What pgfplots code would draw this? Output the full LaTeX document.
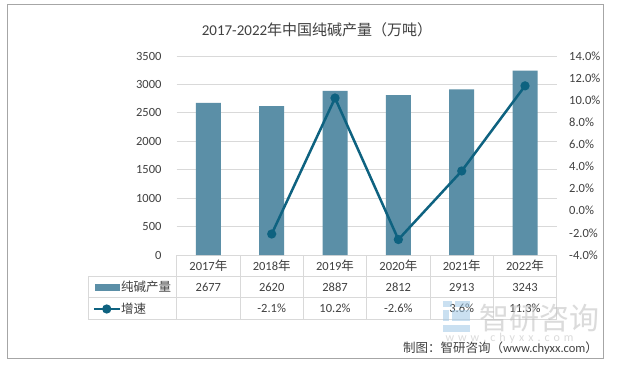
\documentclass[border=0pt]{standalone}
\usepackage{fontspec}
\setmainfont{Carlito}
\newfontfamily\cjk{Noto Sans CJK SC}
\usepackage{pgfplots}
\pgfplotsset{compat=1.18}
\definecolor{barc}{RGB}{91,143,167}
\definecolor{linec}{RGB}{14,98,128}
\definecolor{txt}{RGB}{64,64,64}
\definecolor{gridc}{RGB}{217,217,217}
\definecolor{borderc}{RGB}{166,166,166}
\definecolor{wm}{RGB}{190,190,190}
\definecolor{wmblue}{RGB}{160,200,230}
\newcommand{\fs}{\fontsize{12.5pt}{14pt}\selectfont}
\begin{document}
\begin{tikzpicture}[x=1pt,y=1pt]
\path[fill=white] (0,0) rectangle (617,365);
\draw[borderc, line width=1pt] (7,7) rectangle (603,360);
\node[txt, font=\fontsize{15pt}{17pt}\selectfont] at (317,335) {2017-2022{\cjk 年中国纯碱产量（万吨）}};

\begin{axis}[
  scale only axis, width=380pt, height=199pt,
  at={(176.7pt,110pt)}, anchor=south west,
  xmin=-0.5, xmax=5.5, ymin=0, ymax=3500,
  ybar, bar width=25pt,
  axis line style={draw=none},
  major tick length=0pt,
  xtick=\empty,
  ytick={0,500,1000,1500,2000,2500,3000,3500},
  yticklabels={0,500,1000,1500,2000,2500,3000,3500},
  yticklabel style={txt, font=\fs, inner sep=0pt, xshift=-15pt},
  ymajorgrids, grid style={gridc, line width=1pt},
  clip=false,
]
\addplot[fill=barc, draw=none] coordinates {(0,2677) (1,2620) (2,2887) (3,2812) (4,2913) (5,3243)};
\end{axis}

\begin{axis}[
  scale only axis, width=380pt, height=199pt,
  at={(176.7pt,110pt)}, anchor=south west,
  xmin=-0.5, xmax=5.5, ymin=-4, ymax=14,
  axis y line*=right, axis x line=none,
  axis line style={draw=none},
  major tick length=0pt,
  ytick={-4,-2,0,2,4,6,8,10,12,14},
  yticklabels={-4.0\%,-2.0\%,0.0\%,2.0\%,4.0\%,6.0\%,8.0\%,10.0\%,12.0\%,14.0\%},
  yticklabel style={txt, font=\fs, inner sep=0pt, xshift=12.3pt},
  clip=false,
  legend style={at={(axis description cs:0,0)}, anchor=north west,
    xshift=-84.2pt, yshift=-21pt, draw=none, fill=none,
    inner sep=0pt, outer sep=0pt, row sep=0pt,
    nodes={inner sep=0pt, minimum height=22pt, text=txt, font=\fs},
    /tikz/every even column/.append style={column sep=3pt}},
  legend cell align=left,
]
\addlegendimage{legend image code/.code={\fill[barc] (0pt,-3.3pt) rectangle (24pt,3.3pt);}}
\addlegendentry{\cjk 纯碱产量}
\addplot[linec, line width=2.5pt, mark=*, mark size=3.3pt, mark options={fill=linec, draw=linec},
  legend image code/.code={\draw[linec, line width=2.5pt] (-1pt,0pt) -- (25pt,0pt); \fill[linec] (12pt,0pt) circle (3.3pt);}]
  coordinates {(1,-2.1) (2,10.2) (3,-2.6) (4,3.6) (5,11.3)};
\addlegendentry{\cjk 增速}

\node[txt, font=\fs] at (axis cs:0,-4) [yshift=-10.5pt] {2017{\cjk 年}};
\node[txt, font=\fs] at (axis cs:1,-4) [yshift=-10.5pt] {2018{\cjk 年}};
\node[txt, font=\fs] at (axis cs:2,-4) [yshift=-10.5pt] {2019{\cjk 年}};
\node[txt, font=\fs] at (axis cs:3,-4) [yshift=-10.5pt] {2020{\cjk 年}};
\node[txt, font=\fs] at (axis cs:4,-4) [yshift=-10.5pt] {2021{\cjk 年}};
\node[txt, font=\fs] at (axis cs:5,-4) [yshift=-10.5pt] {2022{\cjk 年}};
\node[txt, font=\fs] at (axis cs:0,-4) [yshift=-32pt] {2677};
\node[txt, font=\fs] at (axis cs:1,-4) [yshift=-32pt] {2620};
\node[txt, font=\fs] at (axis cs:2,-4) [yshift=-32pt] {2887};
\node[txt, font=\fs] at (axis cs:3,-4) [yshift=-32pt] {2812};
\node[txt, font=\fs] at (axis cs:4,-4) [yshift=-32pt] {2913};
\node[txt, font=\fs] at (axis cs:5,-4) [yshift=-32pt] {3243};
\node[txt, font=\fs] at (axis cs:1,-4) [yshift=-53.5pt] {-2.1\%};
\node[txt, font=\fs] at (axis cs:2,-4) [yshift=-53.5pt] {10.2\%};
\node[txt, font=\fs] at (axis cs:3,-4) [yshift=-53.5pt] {-2.6\%};
\node[txt, font=\fs] at (axis cs:4,-4) [yshift=-53.5pt] {3.6\%};
\node[txt, font=\fs] at (axis cs:5,-4) [yshift=-53.5pt] {11.3\%};
\end{axis}

% table grid
\begin{scope}[gridc, line width=1pt]
\draw (176.7,110) -- (176.7,46);
\draw (240.03,110) -- (240.03,46);
\draw (303.37,110) -- (303.37,46);
\draw (366.7,110) -- (366.7,46);
\draw (430.03,110) -- (430.03,46);
\draw (493.37,110) -- (493.37,46);
\draw (556.7,110) -- (556.7,46);
\draw (88.3,89) -- (88.3,46);
\draw (88.3,89) -- (556.7,89);
\draw (88.3,67.3) -- (556.7,67.3);
\draw (88.3,46) -- (556.7,46);
\end{scope}

% watermark
\begin{scope}[opacity=0.55]
\fill[wmblue] (443,58) rectangle (452,64);
\fill[wmblue] (455,58) rectangle (470,64);
\fill[wmblue] (443,44) rectangle (449,55);
\fill[wmblue] (452,44) rectangle (470,55);
\fill[wmblue] (443,33) rectangle (470,40);
\node[wm, font=\fontsize{30pt}{32pt}\selectfont\cjk, anchor=west] at (476,47) {智研咨询};
\node[wm, font=\fontsize{12pt}{14pt}\selectfont, anchor=west] at (442,27) {w\,\,w\,\,w\,\,.\,\,c\,\,h\,\,y\,\,x\,\,x\,\,.\,\,c\,\,o\,\,m};
\end{scope}
\node[txt, font=\fs, anchor=east] at (601.5,17) {{\cjk 制图：智研咨询（}www.chyxx.com{\cjk ）}};
\end{tikzpicture}
\end{document}
